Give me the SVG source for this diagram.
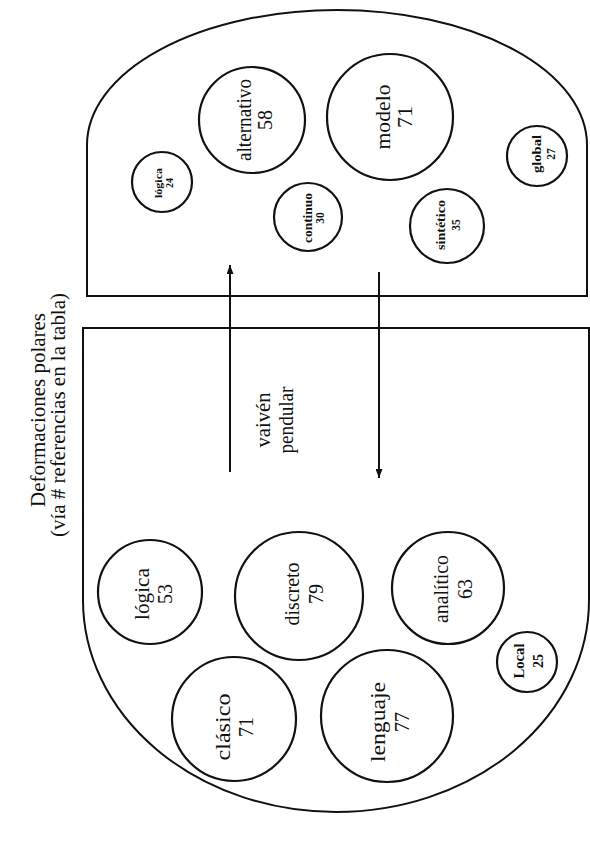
<svg xmlns="http://www.w3.org/2000/svg" width="590" height="845" viewBox="0 0 590 845">
<style>
.reg{fill:none;stroke:#111;stroke-width:2}
.c{fill:#fff;stroke:#111;stroke-width:2.2}
.t{font-family:"Liberation Serif","Times New Roman",serif;fill:#111;text-anchor:middle}
.big{font-size:20px}
.sm{font-size:11.5px;font-weight:bold}
.title{font-size:20px}
.conn{stroke:#111;stroke-width:2;fill:none}
</style>
<defs>
<marker id="ah" markerUnits="userSpaceOnUse" markerWidth="9" markerHeight="7" refX="9" refY="3.5" orient="auto">
<path d="M0,0 L9,3.5 L0,7 z" fill="#111"/>
</marker>
</defs>
<rect width="590" height="845" fill="#fff"/>
<g id="title" class="t title">
<text transform="translate(45,410) rotate(-90)" x="0" y="0" textLength="194" lengthAdjust="spacingAndGlyphs">Deformaciones polares</text>
<text transform="translate(65,415) rotate(-90)" x="0" y="0" textLength="244" lengthAdjust="spacingAndGlyphs">(vía # referencias en la tabla)</text>
</g>
<g id="region-top">
<path class="reg" d="M87 296 L87 145 A250 135 0 0 1 587 145 L587 296 Z"/>
</g>
<g id="region-bottom">
<path class="reg" d="M83 328 L589 328 L589 600 A253 212 0 0 1 83 600 Z"/>
</g>
<g id="connectors">
<line class="conn" x1="230" y1="472" x2="230" y2="265" marker-end="url(#ah)"/>
<line class="conn" x1="379" y1="272" x2="379" y2="478" marker-end="url(#ah)"/>
<g class="t big" transform="translate(0,420)">
<text transform="translate(270,0) rotate(-90)" textLength="55" lengthAdjust="spacingAndGlyphs">vaivén</text>
<text transform="translate(293,0) rotate(-90)" textLength="67" lengthAdjust="spacingAndGlyphs">pendular</text>
</g>
</g>
<g id="n-logica24">
<circle class="c" cx="162" cy="182" r="30"/>
<g class="t" transform="translate(162,183) rotate(-90)">
<text y="0" style="font-size:10px;font-weight:bold" textLength="30" lengthAdjust="spacingAndGlyphs">lógica</text>
<text y="11" style="font-size:10px;font-weight:bold">24</text>
</g>
</g>
<g id="n-alternativo">
<circle class="c" cx="252" cy="120" r="53"/>
<g class="t big" transform="translate(252,120) rotate(-90)">
<text y="-1" textLength="82" lengthAdjust="spacingAndGlyphs">alternativo</text>
<text y="20">58</text>
</g>
</g>
<g id="n-continuo">
<circle class="c" cx="308" cy="217" r="34"/>
<g class="t sm" transform="translate(308,218) rotate(-90)">
<text y="4" textLength="50" lengthAdjust="spacingAndGlyphs">continuo</text>
<text y="16">30</text>
</g>
</g>
<g id="n-modelo">
<circle class="c" cx="390" cy="117" r="63"/>
<g class="t" style="font-size:22px" transform="translate(390,117) rotate(-90)">
<text y="0" textLength="65" lengthAdjust="spacingAndGlyphs">modelo</text>
<text y="22">71</text>
</g>
</g>
<g id="n-sintetico">
<circle class="c" cx="447" cy="226" r="37"/>
<g class="t sm" transform="translate(447,225) rotate(-90)">
<text y="-2" textLength="50" lengthAdjust="spacingAndGlyphs">sintético</text>
<text y="13">35</text>
</g>
</g>
<g id="n-global">
<circle class="c" cx="537" cy="156" r="30"/>
<g class="t sm" transform="translate(537,154) rotate(-90)">
<text y="4" textLength="38" lengthAdjust="spacingAndGlyphs">global</text>
<text y="18">27</text>
</g>
</g>
<g id="n-logica53">
<circle class="c" cx="150" cy="592" r="52"/>
<g class="t big" transform="translate(150,594) rotate(-90)">
<text y="-1" textLength="52" lengthAdjust="spacingAndGlyphs">lógica</text>
<text y="22">53</text>
</g>
</g>
<g id="n-discreto">
<circle class="c" cx="299" cy="596" r="64"/>
<g class="t big" transform="translate(299,594) rotate(-90)">
<text y="0" textLength="63" lengthAdjust="spacingAndGlyphs">discreto</text>
<text y="24">79</text>
</g>
</g>
<g id="n-analitico">
<circle class="c" cx="448" cy="588" r="56"/>
<g class="t big" transform="translate(448,589) rotate(-90)">
<text y="0" textLength="68" lengthAdjust="spacingAndGlyphs">analítico</text>
<text y="24">63</text>
</g>
</g>
<g id="n-clasico">
<circle class="c" cx="234" cy="719" r="62"/>
<g class="t big" transform="translate(234,727) rotate(-90)">
<text y="-4" textLength="67" lengthAdjust="spacingAndGlyphs">clásico</text>
<text y="19">71</text>
</g>
</g>
<g id="n-lenguaje">
<circle class="c" cx="387" cy="716" r="66"/>
<g class="t big" transform="translate(387,722) rotate(-90)">
<text y="-2" textLength="80" lengthAdjust="spacingAndGlyphs">lenguaje</text>
<text y="22">77</text>
</g>
</g>
<g id="n-local">
<circle class="c" cx="527" cy="662" r="30"/>
<g class="t" style="font-size:14px;font-weight:bold" transform="translate(527,661) rotate(-90)">
<text y="-3" textLength="35" lengthAdjust="spacingAndGlyphs">Local</text>
<text y="16">25</text>
</g>
</g>
</svg>
